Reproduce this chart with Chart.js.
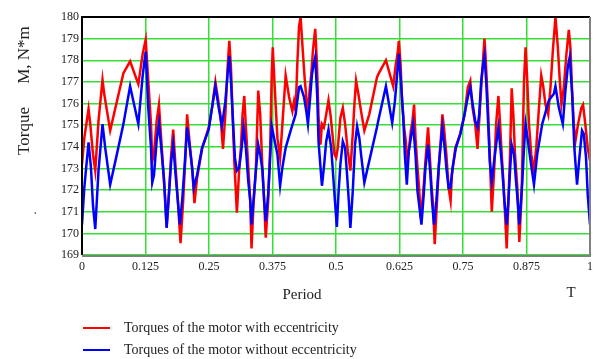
<!DOCTYPE html>
<html>
<head>
<meta charset="utf-8">
<script src="https://cdn.jsdelivr.net/npm/chart.js@4.4.1/dist/chart.umd.min.js"></script>
<style>
  body { margin: 0; background: #fff; }
  #wrap { width: 598px; height: 359px; }
</style>
</head>
<body>
<div id="wrap"><canvas id="torqueChart" width="598" height="359"></canvas></div>
<script>
// Torque over one period, motor with eccentricity (red)
const redPeriod = [
    0, 0.0045, 0.0129, 0.0163, 0.0216, 0.0261, 0.0325, 0.0404, 0.0437, 0.0555,
    0.0815, 0.0947, 0.1109, 0.1195, 0.1254, 0.1305, 0.1358, 0.1383, 0.1417, 0.1470,
    0.1515, 0.1548, 0.1599, 0.1632, 0.1666, 0.1711, 0.1756, 0.1795, 0.1842, 0.1887,
    0.1940, 0.1991, 0.2038, 0.2069, 0.2122, 0.2167, 0.2214, 0.2265, 0.2363, 0.2495,
    0.2559, 0.2626, 0.2691, 0.2724, 0.2775, 0.2822, 0.2867, 0.2900, 0.2932, 0.2965,
    0.2998, 0.3049, 0.3096, 0.3128, 0.3161, 0.3194, 0.3226, 0.3273, 0.3312, 0.3337,
    0.3376, 0.3422, 0.3469, 0.3508, 0.3553, 0.3586, 0.3617, 0.3665, 0.3704, 0.3735,
    0.3755, 0.3794, 0.3847, 0.3900, 0.3945, 0.4009, 0.4076, 0.4141, 0.4174, 0.4205,
    0.4239, 0.4272, 0.4303, 0.4350, 0.4382, 0.4415, 0.4448, 0.4480, 0.4513, 0.4546,
    0.4591, 0.4625, 0.4656, 0.4695, 0.4723, 0.4762, 0.4807, 0.4852, 0.4891, 0.4938,
    0.4970, 0.5003, 0.5036, 0.5087, 0.5134, 0.5179, 0.5232, 0.5283, 0.5330, 0.5362,
    0.5395, 0.5440, 0.5493, 0.5558, 0.5655, 0.5806, 0.5832, 0.5983, 0.6126, 0.6179,
    0.6212, 0.6237, 0.6271, 0.6302, 0.6341, 0.6375, 0.6400, 0.6433, 0.6473, 0.6506,
    0.6537, 0.6565, 0.6604, 0.6635, 0.6669, 0.6714, 0.6761, 0.6812, 0.6845, 0.6878,
    0.6910, 0.6943, 0.6982, 0.7027, 0.7061, 0.7094, 0.7125, 0.7172, 0.7217, 0.7256,
    0.7282, 0.7349, 0.7447, 0.7531, 0.7595, 0.7643, 0.7688, 0.7740, 0.7786, 0.7819,
    0.7858, 0.7890, 0.7923, 0.7948, 0.7987, 0.8027, 0.8066, 0.8113, 0.8152, 0.8197,
    0.8230, 0.8262, 0.8295, 0.8328, 0.8360, 0.8393, 0.8426, 0.8458, 0.8491, 0.8524,
    0.8570, 0.8609, 0.8654, 0.8701, 0.8732, 0.8765, 0.8799, 0.8844, 0.8897, 0.8942,
    0.8995, 0.9040, 0.9079, 0.9124, 0.9177, 0.9222, 0.9269, 0.9320, 0.9367, 0.9406,
    0.9438, 0.9485, 0.9536, 0.9583, 0.9614, 0.9648, 0.9681, 0.9712, 0.9765, 0.9830,
    0.9863, 0.9908, 0.9955, 1.0
];
const redTorque = [
    173.2, 174.4, 175.75, 175.05, 173.65, 172.9, 175.2, 177.1, 176.45, 174.75,
    177.4, 177.95, 176.9, 178.3, 178.95, 177.05, 175.05, 173.35, 173.65, 175.2,
    175.95, 174.75, 172.9, 171.8, 170.3, 171.8, 173.65, 174.8, 173.05, 171.5,
    169.55, 171.5, 173.65, 175.5, 174.1, 173.05, 171.4, 172.55, 173.9, 174.9,
    175.8, 177, 176, 175.5, 173.9, 175.5, 177.7, 178.9, 177.7, 175.5,
    173.35, 170.95, 173.05, 173.95, 175.5, 176.35, 174.9, 173.05, 171.5, 169.3,
    171.35, 172.9, 176.6, 175.5, 172.9, 171.5, 169.8, 171.5, 173.95, 177.35,
    178.6, 176.75, 174.4, 173.5, 175.05, 177.3, 176.3, 175.65, 176.1, 175.65,
    177.85, 179.55, 180, 178.3, 177.2, 176.3, 175.5, 176.6, 177.35, 178.45,
    179.45, 177.85, 175.35, 174.1, 175.05, 174.9, 175.5, 176.15, 175.5, 174.4,
    173.65, 173.5, 173.95, 175.35, 175.8, 175.05, 173.8, 172.9, 174.6, 175.95,
    177.05, 176.45, 175.65, 174.75, 175.5, 177.2, 177.35, 178, 176.8, 177.85,
    178.3, 178.9, 177.85, 175.95, 174.9, 174.25, 173.35, 173.8, 174.75, 175.2,
    175.95, 174.4, 173.05, 172.1, 170.7, 171.8, 173.35, 174.9, 173.65, 172.25,
    171.35, 169.5, 171.2, 173.2, 174.25, 175.5, 174.9, 173.65, 172.1, 171.5,
    172.7, 173.95, 174.6, 175.5, 176.75, 177.05, 175.8, 175.05, 173.9, 175.2,
    176.75, 177.85, 179, 178, 176.1, 173.65, 171, 172.9, 175.05, 176.35,
    175.05, 173.65, 172.4, 170.85, 169.3, 171.35, 173.65, 176.7, 175.5, 173.65,
    172.1, 169.6, 171.8, 177.05, 178.6, 177.05, 175.05, 173.65, 172.9, 173.95,
    175.8, 177.3, 176.8, 175.95, 175.5, 176.75, 178.45, 180, 178.6, 177.05,
    175.95, 176.75, 178.3, 179.4, 178.6, 176.6, 175.05, 174.25, 175.05, 175.8,
    175.95, 175.05, 173.95, 173.35
];

// Torque over one period, motor without eccentricity (blue)
const bluePeriod = [
    0, 0.0045, 0.0129, 0.0176, 0.0216, 0.0261, 0.0325, 0.0404, 0.0457, 0.0555,
    0.0686, 0.0815, 0.0947, 0.1109, 0.1195, 0.1254, 0.1305, 0.1358, 0.1383, 0.1417,
    0.1470, 0.1515, 0.1560, 0.1613, 0.1666, 0.1711, 0.1756, 0.1795, 0.1848, 0.1887,
    0.1926, 0.1971, 0.2018, 0.2069, 0.2122, 0.2167, 0.2201, 0.2265, 0.2363, 0.2495,
    0.2559, 0.2626, 0.2691, 0.2755, 0.2822, 0.2867, 0.2900, 0.2932, 0.2965, 0.3010,
    0.3049, 0.3096, 0.3142, 0.3181, 0.3226, 0.3273, 0.3312, 0.3337, 0.3376, 0.3422,
    0.3469, 0.3508, 0.3553, 0.3586, 0.3617, 0.3665, 0.3704, 0.3735, 0.3782, 0.3847,
    0.3900, 0.3945, 0.4009, 0.4107, 0.4205, 0.4272, 0.4303, 0.4370, 0.4415, 0.4448,
    0.4480, 0.4527, 0.4566, 0.4591, 0.4631, 0.4656, 0.4695, 0.4723, 0.4762, 0.4807,
    0.4852, 0.4905, 0.4938, 0.4970, 0.5017, 0.5048, 0.5087, 0.5134, 0.5179, 0.5218,
    0.5252, 0.5283, 0.5330, 0.5375, 0.5415, 0.5460, 0.5493, 0.5558, 0.5655, 0.5806,
    0.5832, 0.5983, 0.6106, 0.6159, 0.6198, 0.6237, 0.6277, 0.6322, 0.6355, 0.6394,
    0.6433, 0.6473, 0.6518, 0.6565, 0.6604, 0.6635, 0.6682, 0.6727, 0.6761, 0.6812,
    0.6859, 0.6890, 0.6929, 0.6976, 0.7022, 0.7061, 0.7094, 0.7139, 0.7178, 0.7217,
    0.7251, 0.7296, 0.7360, 0.7447, 0.7531, 0.7595, 0.7643, 0.7688, 0.7740, 0.7786,
    0.7819, 0.7858, 0.7890, 0.7923, 0.7956, 0.7987, 0.8027, 0.8066, 0.8113, 0.8152,
    0.8197, 0.8236, 0.8275, 0.8315, 0.8360, 0.8393, 0.8426, 0.8458, 0.8505, 0.8544,
    0.8576, 0.8609, 0.8668, 0.8701, 0.8732, 0.8779, 0.8830, 0.8897, 0.8961, 0.9059,
    0.9191, 0.9289, 0.9320, 0.9387, 0.9465, 0.9516, 0.9563, 0.9602, 0.9648, 0.9692,
    0.9745, 0.9791, 0.9843, 0.9877, 0.9922, 0.9955, 1.0
];
const blueTorque = [
    170.4, 172.1, 174.2, 173.05, 171.3, 170.2, 172.9, 175.05, 173.95, 172.25,
    173.65, 175.05, 176.8, 175.05, 177.3, 178.4, 175.8, 173.95, 172.35, 172.7,
    174.3, 175.1, 173.95, 172.55, 170.25, 171.8, 173.35, 174.1, 172.55, 171.5,
    170.4, 171.5, 173.05, 174.9, 173.95, 173.05, 172.1, 172.7, 173.95, 174.8,
    175.8, 176.8, 175.8, 174.95, 176.1, 177.4, 178.2, 177.05, 175.5, 173.5,
    172.9, 173.05, 173.95, 174.9, 173.95, 172.4, 171.5, 170.4, 171.5, 172.9,
    174.1, 173.65, 172.9, 171.5, 170.55, 171.8, 173.5, 174.95, 174.4, 173.65,
    172.2, 173.05, 173.95, 174.75, 175.5, 176.75, 176.8, 176.3, 175.65, 175.05,
    175.95, 177.35, 177.9, 178.15, 176.3, 174.25, 173.05, 172.2, 173.05, 174.25,
    174.8, 173.95, 172.9, 171.8, 170.3, 171.8, 173.2, 174.25, 173.95, 172.7,
    171.5, 170.25, 171.95, 174.1, 174.95, 174.4, 173.65, 172.35, 173.35, 174.9,
    175.2, 176.8, 175.1, 176.1, 177.2, 178.3, 177.05, 175.5, 173.65, 172.25,
    173.8, 174.4, 175.05, 173.65, 171.95, 171.35, 170.4, 171.8, 173.05, 174.1,
    172.7, 171.5, 170.4, 171.5, 173.05, 174.1, 174.9, 173.95, 172.9, 172.1,
    172.1, 173.05, 173.95, 174.6, 175.5, 176.3, 176.75, 176, 175.2, 174.9,
    175.5, 177.05, 177.7, 178.2, 177.05, 175.5, 173.35, 172.4, 173.35, 174.1,
    174.9, 173.95, 172.9, 171.5, 170.4, 171.5, 172.9, 174.1, 173.65, 172.4,
    171.5, 170.4, 172.4, 173.95, 175.05, 174.25, 173.35, 172.25, 173.65, 175.05,
    176.15, 176.45, 176.8, 175.8, 175.05, 176.6, 177.7, 178.15, 176.45, 173.95,
    172.25, 173.5, 174.75, 174.6, 173.5, 171.8, 170.4
];

const seriesNames = [
    "Torques of the motor with eccentricity",
    "Torques of the motor without eccentricity"
];
const seriesColors = ["#ff0000", "#0000ff"];

const FONT = "'Liberation Serif', 'Times New Roman', serif";

function toPoints(xs, ys) {
    const n = Math.min(xs.length, ys.length);
    const pts = [];
    for (let i = 0; i < n; i++) pts.push({ x: xs[i], y: ys[i] });
    return pts;
}

// Frame, axis titles and the legend under the plot
const decorPlugin = {
    id: "decor",
    afterDraw(chart) {
        const ctx = chart.ctx;
        const a = chart.chartArea;
        ctx.save();

        // box around the plot
        ctx.lineWidth = 2;
        ctx.strokeStyle = "#000";
        ctx.beginPath();
        ctx.moveTo(a.left, a.bottom);
        ctx.lineTo(a.left, a.top);
        ctx.lineTo(a.right, a.top);
        ctx.stroke();
        ctx.strokeStyle = "#808080";
        ctx.beginPath();
        ctx.moveTo(a.right, a.top);
        ctx.lineTo(a.right, a.bottom + 1);
        ctx.lineTo(a.left, a.bottom + 1);
        ctx.stroke();

        ctx.fillStyle = "#222";
        ctx.textBaseline = "middle";

        // y axis title, rotated
        ctx.save();
        ctx.translate(25, 0);
        ctx.rotate(-Math.PI / 2);
        ctx.textAlign = "center";
        ctx.font = "17px " + FONT;
        ctx.fillText("Torque", -131, 0);
        ctx.fillText("M, N*m", -55, 0);
        ctx.font = "12px " + FONT;
        ctx.fillText(".", -213, 8);
        ctx.restore();

        // x axis title
        ctx.textAlign = "center";
        ctx.font = "15px " + FONT;
        ctx.fillText("Period", 302, 295);
        ctx.fillText("T", 571, 293);

        // legend
        ctx.textAlign = "left";
        ctx.font = "14px " + FONT;
        seriesNames.forEach((name, i) => {
            const y = 328 + i * 22;
            ctx.strokeStyle = seriesColors[i];
            ctx.lineWidth = 2;
            ctx.beginPath();
            ctx.moveTo(83, y);
            ctx.lineTo(110, y);
            ctx.stroke();
            ctx.fillStyle = "#222";
            ctx.fillText(name, 124, y);
        });

        ctx.restore();
    }
};

const ctx = document.getElementById("torqueChart").getContext("2d");

const torqueChart = new Chart(ctx, {
    type: "scatter",
    data: {
        datasets: [
            {
                label: seriesNames[0],
                data: toPoints(redPeriod, redTorque),
                showLine: true,
                borderColor: seriesColors[0],
                borderWidth: 2.5,
                pointRadius: 0,
                tension: 0,
                order: 2,
            },
            {
                label: seriesNames[1],
                data: toPoints(bluePeriod, blueTorque),
                showLine: true,
                borderColor: seriesColors[1],
                borderWidth: 2.5,
                pointRadius: 0,
                tension: 0,
                order: 1,
            },
        ],
    },
    options: {
        responsive: false,
        animation: false,
        layout: { padding: { top: 17, right: 6, left: 0, bottom: 0 } },
        plugins: {
            legend: { display: false },
            tooltip: { enabled: false },
        },
        scales: {
            x: {
                type: "linear",
                min: 0,
                max: 1,
                afterFit: (s) => { s.height = 104; },
                grid: { color: "#33e033", lineWidth: 1.5, drawTicks: false },
                border: { display: false },
                ticks: {
                    stepSize: 0.125,
                    padding: 5,
                    color: "#222",
                    font: { family: FONT, size: 12 },
                    maxRotation: 0,
                    callback: (v) => String(parseFloat(v.toFixed(3))),
                },
            },
            y: {
                min: 169,
                max: 180,
                afterFit: (s) => { s.width = 82; },
                grid: { color: "#33e033", lineWidth: 1.5, drawTicks: false },
                border: { display: false },
                ticks: {
                    stepSize: 1,
                    padding: 3,
                    color: "#222",
                    font: { family: FONT, size: 12 },
                },
            },
        },
    },
    plugins: [decorPlugin],
});
</script>
</body>
</html>
